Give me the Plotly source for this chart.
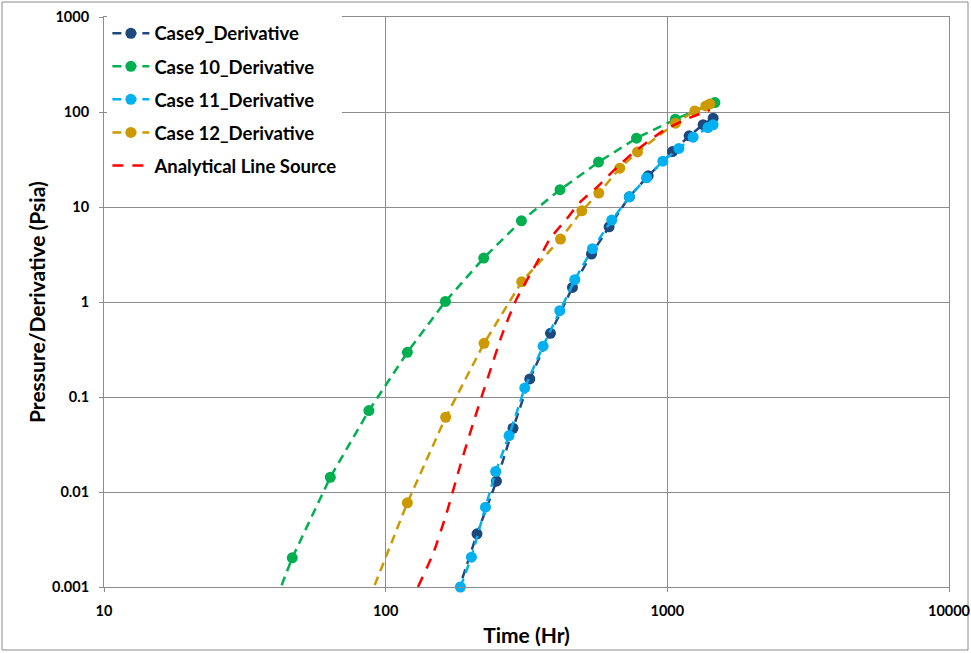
import plotly.graph_objects as go

# ---- data: time (hr) vs. pressure derivative (psia) ----
case9_t = [180.3, 211, 247.4, 283.3, 324.8, 384.7, 460.4, 538, 621.2, 732.8, 855, 1043, 1195, 1340, 1454]
case9_d = [0.00088, 0.00363, 0.0130, 0.0469, 0.155, 0.468, 1.424, 3.20, 6.19, 12.8, 21.3, 38.3, 56.1, 73.5, 86.1]

case10_t = [34.2, 46.6, 63.6, 87.2, 119.4, 163, 222.9, 303.4, 416, 569.7, 777.4, 1068, 1475]
case10_d = [0.000192, 0.00203, 0.0143, 0.0719, 0.295, 1.015, 2.90, 7.16, 15.2, 29.7, 53.0, 84.0, 125.6]

case11_t = [184.2, 201.6, 226.1, 245.9, 274.2, 311.7, 362.2, 415.1, 469.3, 542.5, 635, 733.5, 843.6,
            964, 1099, 1235, 1393, 1454]
case11_d = [0.001, 0.00206, 0.00692, 0.01643, 0.0393, 0.1247, 0.343, 0.810, 1.716, 3.635, 7.28, 12.8,
            20.3, 30.4, 41.4, 54.3, 68.6, 73.3]

case12_t = [87.4, 119.4, 163.3, 223.5, 304.1, 417.5, 497, 571, 678, 783.8, 1069, 1252, 1370, 1416]
case12_d = [0.000748, 0.00770, 0.0612, 0.367, 1.635, 4.60, 9.12, 14.0, 25.6, 38.0, 76.3, 102.7, 115.9, 121.7]

line_src_t = [130.2, 147.3, 164.3, 183.2, 204.2, 230.8, 259.8, 291.3, 352.5, 382.4, 438.5, 488.9,
              560.5, 637.7, 745, 966, 1170, 1416]
line_src_d = [0.001, 0.00224, 0.0059, 0.01823, 0.0525, 0.161, 0.464, 1.07, 2.94, 4.60, 7.46, 11.15,
              16.0, 23.4, 35.8, 63.3, 84.2, 104.7]

x_ticks = [10, 100, 1000, 10000]
x_tick_text = ["10", "100", "1000", "10000"]
y_ticks = [0.001, 0.01, 0.1, 1, 10, 100, 1000]
y_tick_text = ["0.001", "0.01", "0.1", "1", "10", "100", "1000"]

FONT = "Lato"
DASH = "9px,6px"
GRID = "#8C8C8C"

fig = go.Figure()


def add_case(name, t, d, color, group, clip=True):
    fig.add_trace(go.Scatter(
        x=t, y=d, name=name, mode="lines+markers",
        line=dict(color=color, width=2.5, dash=DASH),
        marker=dict(color=color, size=11, symbol="circle"),
        cliponaxis=clip, legendgroup=group,
    ))


add_case("Case9_Derivative", case9_t, case9_d, "#1F497D", "g1")
add_case("Case 10_Derivative", case10_t, case10_d, "#00B050", "g2")
add_case("Case 11_Derivative", case11_t, case11_d, "#00B0F0", "g3", clip=False)
add_case("Case 12_Derivative", case12_t, case12_d, "#CC9900", "g4")
fig.add_trace(go.Scatter(
    x=line_src_t, y=line_src_d, name="Analytical Line Source", mode="lines",
    line=dict(color="#FF0000", width=2.5, dash="11px,9px", shape="spline", smoothing=0.6),
    legendgroup="g5",
))

axis_common = dict(
    type="log", automargin=False,
    showline=True, linecolor=GRID, linewidth=1, mirror=True,
    showgrid=True, gridcolor=GRID, gridwidth=1,
    ticks="outside", ticklen=4, tickcolor=GRID,
    tickfont=dict(family=FONT, size=14.5, color="#000000", weight="bold"),
    ticklabeloverflow="allow",
    zeroline=False,
)

fig.update_xaxes(
    **axis_common,
    range=[1, 4],
    tickvals=x_ticks, ticktext=x_tick_text,
    ticklabelstandoff=7,
    title=dict(text="Time (Hr)", font=dict(family=FONT, size=21, color="#000000", weight="bold"),
               standoff=9),
)
fig.update_yaxes(
    **axis_common,
    range=[-3, 3],
    tickvals=y_ticks, ticktext=y_tick_text,
    ticklabelstandoff=7,
)

# y-axis title, placed close to the tick labels
fig.add_annotation(
    text="Pressure/Derivative (Psia)", textangle=-90,
    xref="paper", yref="paper", x=-0.0805, y=0.5,
    xanchor="center", yanchor="middle", showarrow=False,
    font=dict(family=FONT, size=21, color="#000000", weight="bold"),
)

# outer chart frame
fig.add_shape(type="rect", xref="paper", yref="paper",
              x0=-0.1207, x1=1.0225, y0=-0.1105, y1=1.0263,
              line=dict(color=GRID, width=1), fillcolor="rgba(0,0,0,0)", layer="below")

fig.update_layout(
    width=971, height=653,
    margin=dict(l=104, r=22, t=17, b=66, autoexpand=False),
    paper_bgcolor="#FFFFFF", plot_bgcolor="#FFFFFF",
    font=dict(family=FONT, color="#000000"),
    showlegend=True,
    legend=dict(
        x=0.004, y=1.004, xanchor="left", yanchor="top",
        bgcolor="#FFFFFF", borderwidth=0,
        font=dict(family=FONT, size=18.5, color="#000000", weight="bold"),
        traceorder="grouped", tracegroupgap=6,
        itemwidth=37,
    ),
)

fig.write_html("out.html")
